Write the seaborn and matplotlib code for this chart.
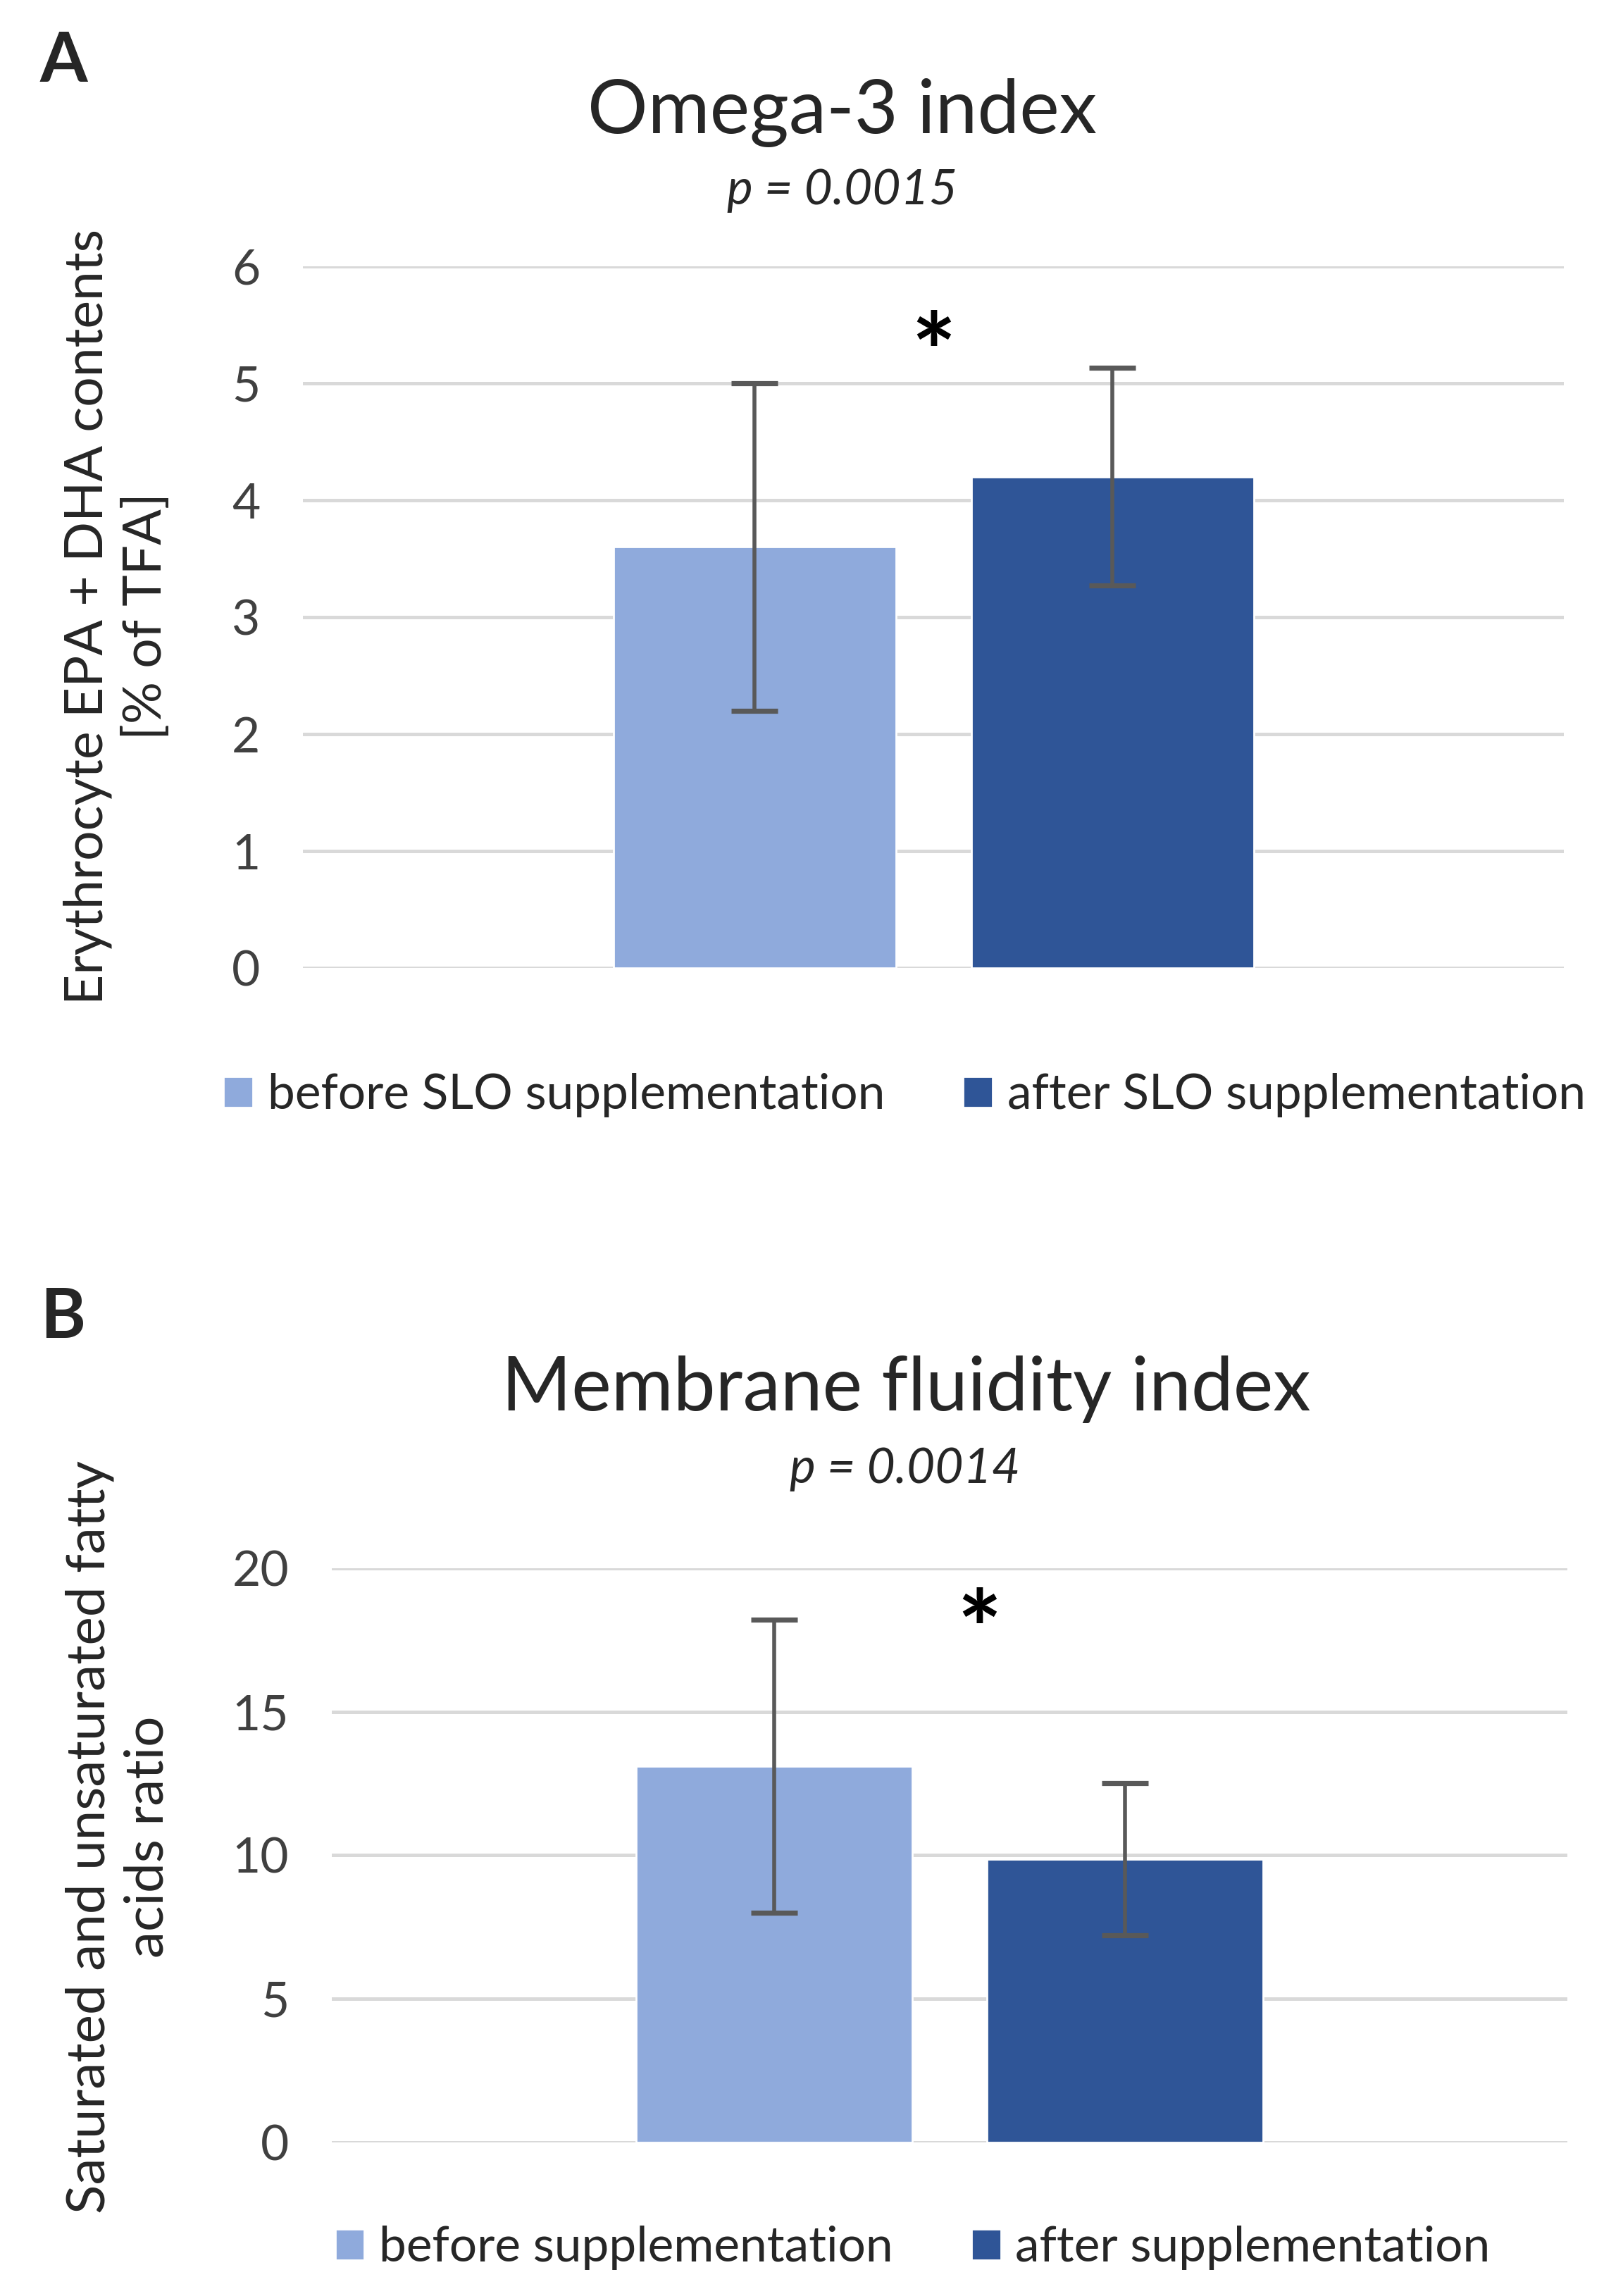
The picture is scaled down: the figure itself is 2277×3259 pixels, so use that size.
import numpy as np
import pandas as pd
import matplotlib
matplotlib.use('Agg')
import matplotlib.pyplot as plt
import seaborn as sns

# Dados
groups_a = ['before SLO supplementation', 'after SLO supplementation']
omega3_mean = [3.6, 4.2]
omega3_sd = [1.4, 0.93]

groups_b = ['before supplementation', 'after supplementation']
fluidity_mean = [13.1, 9.85]
fluidity_sd = [5.1, 2.65]

COLORS = ['#8FAADC', '#2F5597']
FONT = 'Lato'

sns.set_theme(style='white')
plt.rcParams['font.family'] = [FONT, 'DejaVu Sans']

fig = plt.figure(figsize=(11.385, 16.295), dpi=200)


def draw_panel(rect, groups, means, sds, ymax, ystep, star_x, star_y):
    ax = fig.add_axes(rect)
    df = pd.DataFrame({'cat': ['g'] * len(groups), 'value': means, 'group': groups})
    sns.barplot(data=df, x='cat', y='value', hue='group', hue_order=groups,
                palette=COLORS, width=0.568, gap=0.211, errorbar=None,
                saturation=1, ax=ax)
    handles, labels = ax.get_legend_handles_labels()
    if ax.get_legend() is not None:
        ax.get_legend().remove()
    for cont, m, s in zip(ax.containers, means, sds):
        bar = cont.patches[0]
        xc = bar.get_x() + bar.get_width() / 2
        ax.errorbar(xc, m, yerr=s, color='#595959', elinewidth=2,
                    capsize=12, capthick=2.6, fmt='none', zorder=3)
    ax.set_ylim(0, ymax)
    ax.set_xlim(-0.5, 0.5)
    ax.set_yticks(np.arange(0, ymax + 0.1, ystep))
    ax.yaxis.grid(True, color='#D9D9D9', linewidth=1.8)
    ax.set_axisbelow(True)
    for sp in ax.spines.values():
        sp.set_visible(False)
    ax.set_xticks([])
    ax.set_xlabel('')
    ax.set_ylabel('')
    ax.tick_params(axis='y', length=0, pad=22, labelsize=25, labelcolor='#404040')
    ax.text(star_x, star_y, '*', ha='center', va='center', fontsize=54,
            fontweight='bold', color='black')
    return ax, handles, labels


# Painel A
ax_a, h_a, l_a = draw_panel([0.189, 0.5784, 0.786, 0.3056], groups_a, omega3_mean,
                            omega3_sd, 6, 1, 0.0, 5.2)
fig.text(0.025, 0.973, 'A', fontsize=35, fontweight='bold', ha='left', va='center')
fig.text(0.525, 0.951, 'Omega-3 index', fontsize=38.5, ha='center', va='center')
fig.text(0.525, 0.917, 'p = 0.0015', fontsize=25, style='italic', ha='center', va='center')
fig.text(0.073, 0.7315, 'Erythrocyte EPA + DHA contents\n[% of TFA]', rotation=90,
         fontsize=27, ha='center', va='center', multialignment='center', linespacing=1.25)
fig.legend(h_a, l_a, loc='center', bbox_to_anchor=(0.564, 0.523), ncol=2, frameon=False,
           fontsize=25, handlelength=0.6, handleheight=0.6, handletextpad=0.3,
           columnspacing=1.6)

# Painel B
ax_b, h_b, l_b = draw_panel([0.207, 0.067, 0.770, 0.250], groups_b, fluidity_mean,
                            fluidity_sd, 20, 5, 0.024, 17.6)
fig.text(0.025, 0.426, 'B', fontsize=35, fontweight='bold', ha='left', va='center')
fig.text(0.565, 0.395, 'Membrane fluidity index', fontsize=38.5, ha='center', va='center')
fig.text(0.564, 0.360, 'p = 0.0014', fontsize=25, style='italic', ha='center', va='center')
fig.text(0.074, 0.200, 'Saturated and unsaturated fatty\nacids ratio', rotation=90,
         fontsize=27.5, ha='center', va='center', multialignment='center', linespacing=1.25)
fig.legend(h_b, l_b, loc='center', bbox_to_anchor=(0.569, 0.021), ncol=2, frameon=False,
           fontsize=25, handlelength=0.6, handleheight=0.6, handletextpad=0.3,
           columnspacing=1.6)

fig.savefig('out.png', dpi=200)
plt.close(fig)
